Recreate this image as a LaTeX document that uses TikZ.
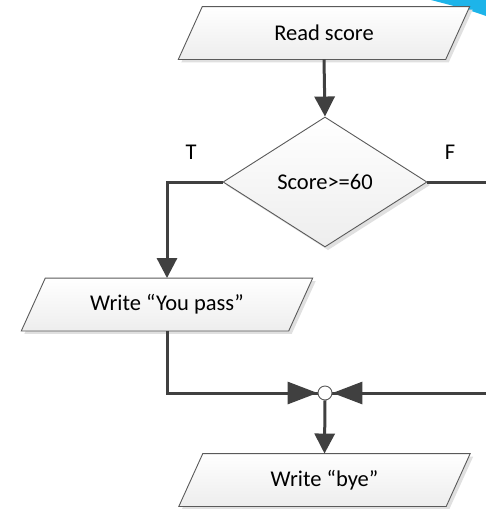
\documentclass[tikz,border=0pt]{standalone}
\usepackage{fontspec}
\setmainfont{Carlito}
\usetikzlibrary{arrows.meta,shapes.geometric,calc}
\definecolor{linec}{HTML}{404040}
\definecolor{edgec}{HTML}{5A5A5A}
\definecolor{swoosh}{HTML}{1DB4E9}
\tikzset{
  iobox/.style={rectangle, minimum width=267pt, minimum height=52.5pt, inner sep=0pt,
    font=\fontsize{22.5}{27}\selectfont},
  para/.style={draw=edgec, line width=0.9pt, top color=white, bottom color=gray!14},
  shadowc/.style={fill=black!12},
  decision/.style={diamond, draw=edgec, line width=0.9pt, top color=white, bottom color=gray!14,
    minimum width=204pt, minimum height=130pt, inner sep=0pt, font=\fontsize{22.5}{27}\selectfont},
  conn/.style={draw=linec, line width=3pt},
  vtip/.style={-{Triangle[length=20pt,width=20pt]}},
  htip/.style={-{Triangle[length=30pt,width=22pt]}},
  lbl/.style={font=\fontsize{22.5}{27}\selectfont, inner sep=0pt},
  mergec/.style={circle, draw=edgec, line width=0.9pt, fill=white, minimum size=14pt, inner sep=0pt}
}
\newcommand{\paradraw}[1]{%
  \fill[shadowc] ($(#1.north west)+(12pt,0)+(3pt,-3pt)$) -- ($(#1.north east)+(12pt,0)+(3pt,-3pt)$)
    -- ($(#1.south east)+(-12pt,0)+(3pt,-3pt)$) -- ($(#1.south west)+(-12pt,0)+(3pt,-3pt)$) -- cycle;
  \path[para] ($(#1.north west)+(12pt,0)$) -- ($(#1.north east)+(12pt,0)$)
    -- ($(#1.south east)+(-12pt,0)$) -- ($(#1.south west)+(-12pt,0)$) -- cycle;}
\begin{document}
\begin{tikzpicture}[x=1pt,y=-1pt]
\useasboundingbox (0,0) rectangle (486,509);
\clip (0,0) rectangle (486,509);
\fill[white] (0,0) rectangle (486,509);
\fill[swoosh] (431,0) .. controls (450,5) and (470,10) .. (486,16) -- (486,0) -- cycle;

% shapes (positions only)
\node[iobox] (read) at (324,33) {};
\node[iobox] (pass) at (167,304.5) {};
\node[iobox] (bye) at (324.5,480) {};
\paradraw{read}
\paradraw{pass}
\paradraw{bye}
\node[iobox] at (read) {Read score};
\node[iobox] at (pass) {Write “You pass”};
\node[iobox] at (bye) {Write “bye”};

\fill[shadowc] (328,120) -- (430,185) -- (328,250) -- (226,185) -- cycle;
\node[decision] (dia) at (325,182) {Score>=60};

\node[lbl] (tlab) at (191,152) {T};
\node[lbl] (flab) at (450,152) {F};

\coordinate (fright) at (505,182);

\draw[conn,vtip] (read.south) -- (dia.north);
\draw[conn,vtip] (dia.west) -| (pass.north);
\draw[conn] (pass.south) |- (325,393);
\draw[conn] (dia.east) -- (fright) |- (325,393);
\node[mergec] (merge) at (325,393) {};
\draw[conn,htip] (pass.south) |- (merge.west);
\draw[conn,htip] (fright) |- (merge.east);
\draw[conn,vtip] (merge.south) -- (bye.north);
\end{tikzpicture}
\end{document}
